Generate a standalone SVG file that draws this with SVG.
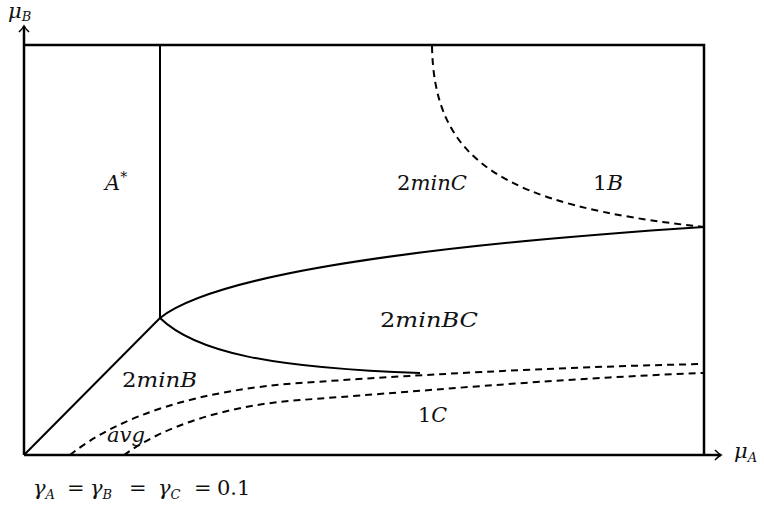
<svg xmlns="http://www.w3.org/2000/svg" width="764" height="513" viewBox="0 0 764 513">
<defs>
<style>
.frame{fill:none;stroke:#000;stroke-width:2.5}
.solid{fill:none;stroke:#000;stroke-width:2}
.dash{fill:none;stroke:#000;stroke-width:2;stroke-dasharray:7 5}
.m{font-style:italic;font-size:21px;fill:#111}
.r{font-style:normal}
.sub{font-size:13px}
</style>
<marker id="arr" viewBox="-6 -6 10 12" markerWidth="10" markerHeight="12" refX="1" refY="0" orient="auto" markerUnits="userSpaceOnUse">
<path d="M-5,-5 Q-1,-1 1,0 Q-1,1 -5,5" fill="none" stroke="#000" stroke-width="1.6"/>
</marker>
</defs>
<rect width="764" height="513" fill="#fff"/>
<g id="axes">
<line x1="24" y1="455" x2="24" y2="26" class="frame" marker-end="url(#arr)"/>
<line x1="24" y1="455" x2="721" y2="455" class="frame" marker-end="url(#arr)"/>
<polyline points="24,45 704,45 704,455" class="frame"/>
</g>
<g id="connectors">
<line x1="160" y1="45" x2="160" y2="318" class="solid"/>
<line x1="24" y1="455" x2="160" y2="318" class="solid"/>
<path d="M160,318 C208,280 380,248 704,227" class="solid"/>
<path d="M160,318 C195,352 270,368 420,373" class="solid"/>
<path d="M432,46 C434,160 500,205 704,227" class="dash"/>
<path d="M70,455 C120,415 200,390 300,383 C400,376 550,367 704,364" class="dash"/>
<path d="M124,455 C165,425 230,405 300,400 C400,393 560,378 704,373" class="dash"/>
</g>
<g font-family="DejaVu Serif, serif">
<g id="label-Astar"><text class="m" x="105" y="190">A<tspan class="r" font-size="14" dy="-8">*</tspan></text></g>
<g id="label-2minC"><text class="m" x="397" y="190" textLength="70" lengthAdjust="spacingAndGlyphs"><tspan class="r">2</tspan>minC</text></g>
<g id="label-1B"><text class="m" x="593" y="190" textLength="30" lengthAdjust="spacingAndGlyphs"><tspan class="r">1</tspan>B</text></g>
<g id="label-2minBC"><text class="m" x="380" y="327" textLength="98" lengthAdjust="spacingAndGlyphs"><tspan class="r">2</tspan>minBC</text></g>
<g id="label-2minB"><text class="m" x="122" y="387" textLength="75" lengthAdjust="spacingAndGlyphs"><tspan class="r">2</tspan>minB</text></g>
<g id="label-avg"><text class="m" x="107" y="442" textLength="38" lengthAdjust="spacingAndGlyphs">avg</text></g>
<g id="label-1C"><text class="m" x="418" y="422" textLength="29" lengthAdjust="spacingAndGlyphs"><tspan class="r">1</tspan>C</text></g>
<g id="label-muB"><text class="m" x="8" y="18" font-size="16">μ<tspan class="sub" dy="3">B</tspan></text></g>
<g id="label-muA"><text class="m" x="734" y="458">μ<tspan class="sub" dy="4">A</tspan></text></g>
<g id="formula"><text class="m" x="33" y="495">γ<tspan class="sub" dy="4">A</tspan><tspan class="r" x="67" dy="-4">=</tspan><tspan x="90">γ</tspan><tspan class="sub" dy="4">B</tspan><tspan class="r" x="129" dy="-4">=</tspan><tspan x="158">γ</tspan><tspan class="sub" dy="4">C</tspan><tspan class="r" x="194" dy="-4">=</tspan><tspan class="r" x="217">0.1</tspan></text></g>
</g>
</svg>
